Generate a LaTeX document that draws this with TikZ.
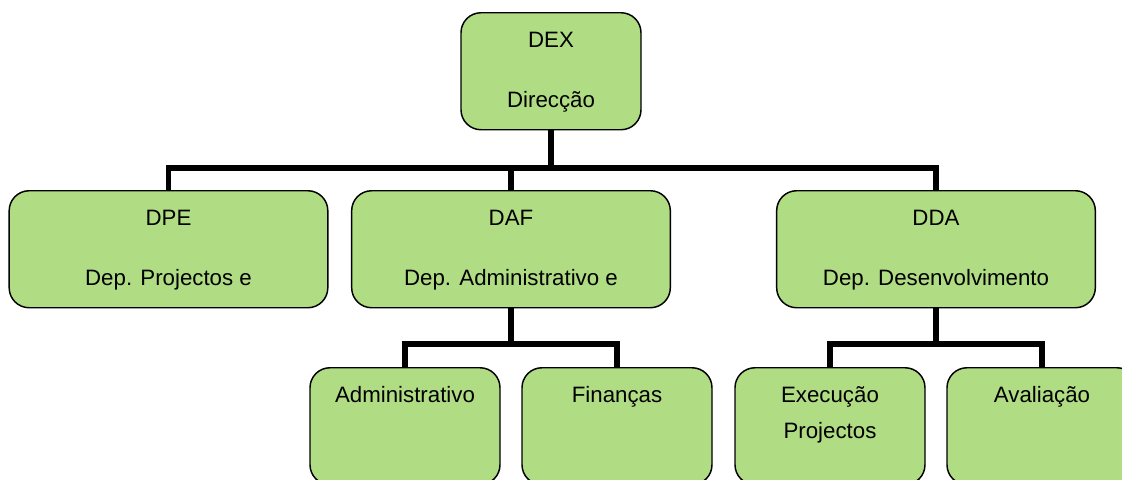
\documentclass[tikz,border=0pt]{standalone}
\usepackage{fontspec}
\setmainfont{Liberation Sans}
\usetikzlibrary{positioning}
\definecolor{boxgreen}{RGB}{176,220,132}

\begin{document}
\begin{tikzpicture}[
  x=0.75pt, y=-0.75pt,
  unit/.style={draw=black, line width=1.1pt, fill=boxgreen, rounded corners=15pt, anchor=north,
    align=center, inner xsep=0pt, inner ysep=0pt, text height=26.25pt, text depth=61.5pt,
    font=\fontsize{16.7}{26}\selectfont},
  twoline/.style={text height=71.25pt, text depth=16.5pt},
  wide/.style={unit, twoline, minimum width=239pt},
  small/.style={unit, minimum width=142.5pt},
  link/.style={line width=4.2pt, line cap=butt}
]
\useasboundingbox (0,0) rectangle (1122,479);
\clip (0,0) rectangle (1122,479);
\coordinate (bar) at (551,168);
\coordinate (barA) at (511,344);
\coordinate (barB) at (936,344);
\node[unit, twoline, minimum width=135pt] (dex) at (551,12) {DEX\\[19pt]Direcção};
\node[wide] (dpe) at (168.5,190) {DPE\\[19pt]Dep. Projectos e};
\node[wide] (daf) at (511,190) {DAF\\[19pt]Dep. Administrativo e};
\node[wide] (dda) at (936,190) {DDA\\[19pt]Dep. Desenvolvimento};
\node[small] (adm) at (405,367) {Administrativo};
\node[small] (fin) at (617,367) {Finanças};
\node[small, text height=52.75pt, text depth=35pt] (exe) at (830,367) {Execução\\[0.5pt]Projectos};
\node[small] (ava) at (1042,367) {Avaliação};
\draw[link] (dex.south) -- (dex.south|-bar);
\draw[link] (dpe.north) |- (bar) -| (dda.north);
\draw[link] (daf.north) -- (daf.north|-bar);
\draw[link] (adm.north) |- (barA) -| (fin.north);
\draw[link] (daf.south) -- (barA);
\draw[link] (exe.north) |- (barB) -| (ava.north);
\draw[link] (dda.south) -- (barB);
\end{tikzpicture}
\end{document}
